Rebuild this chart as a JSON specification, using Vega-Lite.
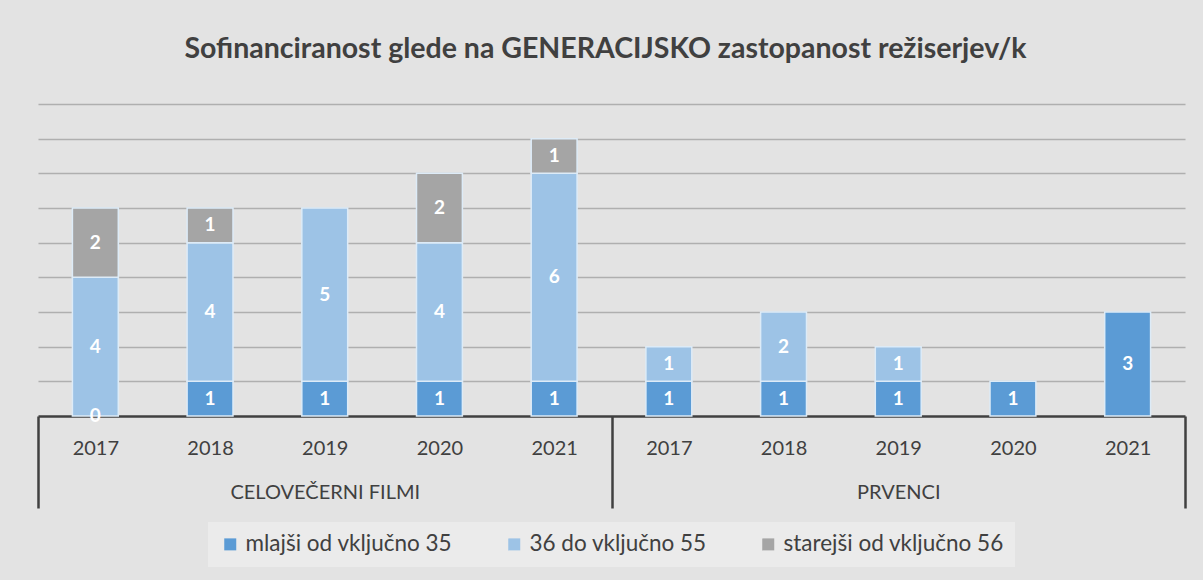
{
  "$schema": "https://vega.github.io/schema/vega-lite/v6.json",
  "width": 1147,
  "height": 312,
  "autosize": {"type": "none"},
  "padding": {"left": 38, "top": 104, "right": 18, "bottom": 164},
  "background": "#e3e3e3",
  "config": {"view": {"stroke": null}, "font": "Lato"},
  "title": {
    "text": "Sofinanciranost glede na GENERACIJSKO zastopanost režiserjev/k",
    "font": "Lato",
    "fontSize": 28.5,
    "fontWeight": "bold",
    "color": "#404040",
    "anchor": "middle",
    "baseline": "alphabetic",
    "offset": 18,
    "dx": -6
  },
  "data": {
    "values": [
      {"cat": "CELOVEČERNI FILMI|2017", "age": "mlajši od vključno 35", "rank": 1, "n": 0},
      {"cat": "CELOVEČERNI FILMI|2017", "age": "36 do vključno 55", "rank": 2, "n": 4},
      {"cat": "CELOVEČERNI FILMI|2017", "age": "starejši od vključno 56", "rank": 3, "n": 2},
      {"cat": "CELOVEČERNI FILMI|2018", "age": "mlajši od vključno 35", "rank": 1, "n": 1},
      {"cat": "CELOVEČERNI FILMI|2018", "age": "36 do vključno 55", "rank": 2, "n": 4},
      {"cat": "CELOVEČERNI FILMI|2018", "age": "starejši od vključno 56", "rank": 3, "n": 1},
      {"cat": "CELOVEČERNI FILMI|2019", "age": "mlajši od vključno 35", "rank": 1, "n": 1},
      {"cat": "CELOVEČERNI FILMI|2019", "age": "36 do vključno 55", "rank": 2, "n": 5},
      {"cat": "CELOVEČERNI FILMI|2020", "age": "mlajši od vključno 35", "rank": 1, "n": 1},
      {"cat": "CELOVEČERNI FILMI|2020", "age": "36 do vključno 55", "rank": 2, "n": 4},
      {"cat": "CELOVEČERNI FILMI|2020", "age": "starejši od vključno 56", "rank": 3, "n": 2},
      {"cat": "CELOVEČERNI FILMI|2021", "age": "mlajši od vključno 35", "rank": 1, "n": 1},
      {"cat": "CELOVEČERNI FILMI|2021", "age": "36 do vključno 55", "rank": 2, "n": 6},
      {"cat": "CELOVEČERNI FILMI|2021", "age": "starejši od vključno 56", "rank": 3, "n": 1},
      {"cat": "PRVENCI|2017", "age": "mlajši od vključno 35", "rank": 1, "n": 1},
      {"cat": "PRVENCI|2017", "age": "36 do vključno 55", "rank": 2, "n": 1},
      {"cat": "PRVENCI|2018", "age": "mlajši od vključno 35", "rank": 1, "n": 1},
      {"cat": "PRVENCI|2018", "age": "36 do vključno 55", "rank": 2, "n": 2},
      {"cat": "PRVENCI|2019", "age": "mlajši od vključno 35", "rank": 1, "n": 1},
      {"cat": "PRVENCI|2019", "age": "36 do vključno 55", "rank": 2, "n": 1},
      {"cat": "PRVENCI|2020", "age": "mlajši od vključno 35", "rank": 1, "n": 1},
      {"cat": "PRVENCI|2021", "age": "mlajši od vključno 35", "rank": 1, "n": 3}
    ]
  },
  "encoding": {
    "x": {
      "field": "cat",
      "type": "nominal",
      "sort": null,
      "scale": {"paddingInner": 0, "paddingOuter": 0},
      "axis": {
        "title": null,
        "grid": false,
        "domainColor": "#404040",
        "domainWidth": 2.5,
        "tickBand": "extent",
        "tickSize": 92,
        "tickWidth": 2.5,
        "tickColor": "#404040",
        "tickOpacity": {"condition": {"test": "datum.extra || indexof(datum.value || '', '2021') >= 0", "value": 1}, "value": 0},
        "labelAngle": 0,
        "labelFont": "Lato",
        "labelFontSize": 20,
        "labelColor": "#404040",
        "labelPadding": -70,
        "labelBaseline": "top",
        "labelLineHeight": 44,
        "labelOverlap": false,
        "labelBound": false,
        "labelLimit": 400,
        "labelExpr": "datum.value ? (slice(datum.value, -4) === '2019' ? [slice(datum.value, -4), slice(datum.value, 0, -5)] : slice(datum.value, -4)) : ''"
      }
    },
    "y": {
      "field": "n",
      "type": "quantitative",
      "stack": "zero",
      "scale": {"domain": [0, 9], "nice": false},
      "axis": {
        "title": null,
        "domain": false,
        "ticks": false,
        "labels": false,
        "values": [1, 2, 3, 4, 5, 6, 7, 8, 9],
        "gridColor": "#8c8c8c",
        "gridOpacity": 0.6,
        "gridWidth": 1.5
      }
    },
    "order": {"field": "rank", "type": "quantitative", "sort": "ascending"}
  },
  "layer": [
    {
      "transform": [{"filter": "datum.n > 0"}],
      "mark": {"type": "bar", "width": {"band": 0.4}, "stroke": "#ddebf7", "strokeWidth": 1.5},
      "encoding": {
        "color": {
          "field": "age",
          "type": "nominal",
          "sort": ["mlajši od vključno 35", "36 do vključno 55", "starejši od vključno 56"],
          "scale": {
            "domain": ["mlajši od vključno 35", "36 do vključno 55", "starejši od vključno 56"],
            "range": ["#5b9bd5", "#9dc3e6", "#a5a5a5"]
          },
          "legend": {
            "title": null,
            "orient": "none",
            "legendX": 170,
            "legendY": 418,
            "direction": "horizontal",
            "symbolType": "square",
            "symbolSize": 144,
            "symbolStrokeWidth": 0,
            "labelFont": "Lato",
            "labelFontSize": 22.5,
            "labelColor": "#404040",
            "labelLimit": 400,
            "fillColor": "#ebebeb",
            "padding": 11,
            "columnPadding": 50
          }
        }
      }
    },
    {
      "mark": {"type": "text", "font": "Lato", "fontWeight": "bold", "fontSize": 19, "baseline": "middle", "align": "center", "color": "#ffffff"},
      "encoding": {
        "y": {"field": "n", "type": "quantitative", "stack": "zero", "bandPosition": 0.5},
        "text": {"field": "n", "type": "quantitative"},
        "detail": {"field": "age", "type": "nominal"}
      }
    }
  ]
}
